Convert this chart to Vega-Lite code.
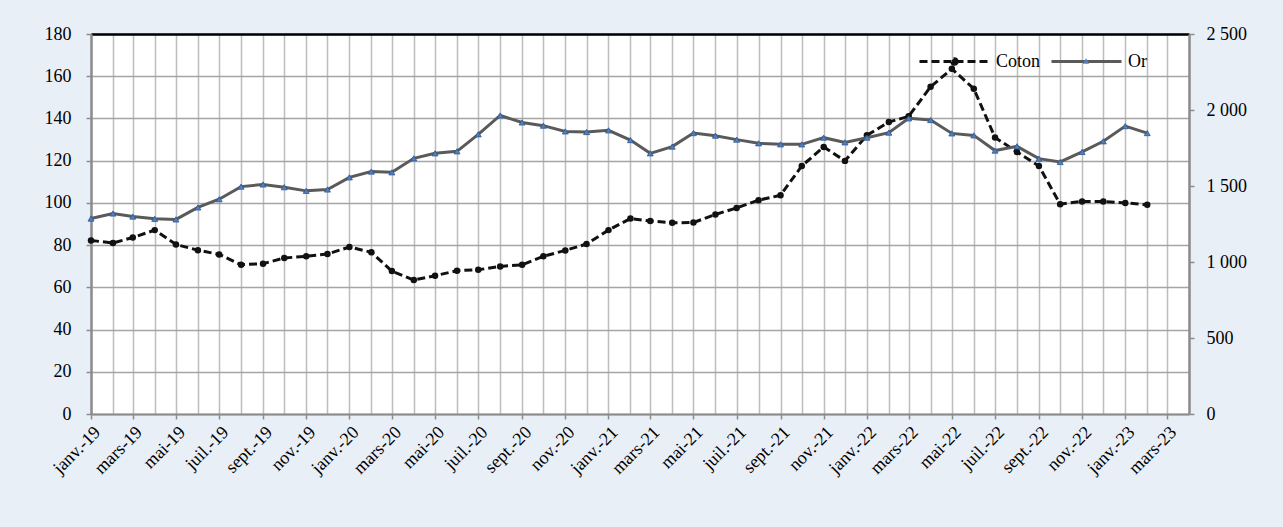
{
  "$schema": "https://vega.github.io/schema/vega-lite/v6.json",
  "width": 1098,
  "height": 380,
  "autosize": {"type": "none"},
  "padding": {"left": 91, "top": 34, "right": 94, "bottom": 113},
  "background": "#E9EFF7",
  "config": {
    "view": {"fill": "#FFFFFF", "stroke": null},
    "font": "Liberation Serif",
    "axis": {"labelFont": "Liberation Serif", "labelFontSize": 18, "labelColor": "#000000", "labelFlush": false, "labelOverlap": false, "labelBound": false},
    "legend": {"labelFont": "Liberation Serif", "labelFontSize": 18, "labelColor": "#000000", "labelOffset": 5, "padding": 0, "symbolSize": 4900, "symbolStrokeWidth": 3, "titleFontSize": 0}
  },
  "data": {
    "values": [
      {"mois": "2019-01-01", "coton": 82.2, "or": 1286},
      {"mois": "2019-02-01", "coton": 81.0, "or": 1319},
      {"mois": "2019-03-01", "coton": 83.6, "or": 1299},
      {"mois": "2019-04-01", "coton": 87.1, "or": 1284},
      {"mois": "2019-05-01", "coton": 80.3, "or": 1280},
      {"mois": "2019-06-01", "coton": 77.6, "or": 1359},
      {"mois": "2019-07-01", "coton": 75.6, "or": 1413},
      {"mois": "2019-08-01", "coton": 70.7, "or": 1496},
      {"mois": "2019-09-01", "coton": 71.2, "or": 1510},
      {"mois": "2019-10-01", "coton": 73.9, "or": 1492},
      {"mois": "2019-11-01", "coton": 74.7, "or": 1468},
      {"mois": "2019-12-01", "coton": 75.8, "or": 1477},
      {"mois": "2020-01-01", "coton": 79.1, "or": 1557},
      {"mois": "2020-02-01", "coton": 76.6, "or": 1595},
      {"mois": "2020-03-01", "coton": 67.7, "or": 1590},
      {"mois": "2020-04-01", "coton": 63.5, "or": 1682},
      {"mois": "2020-05-01", "coton": 65.5, "or": 1715},
      {"mois": "2020-06-01", "coton": 67.9, "or": 1728},
      {"mois": "2020-07-01", "coton": 68.3, "or": 1840},
      {"mois": "2020-08-01", "coton": 69.9, "or": 1964},
      {"mois": "2020-09-01", "coton": 70.7, "or": 1918},
      {"mois": "2020-10-01", "coton": 74.7, "or": 1897},
      {"mois": "2020-11-01", "coton": 77.5, "or": 1859},
      {"mois": "2020-12-01", "coton": 80.5, "or": 1855},
      {"mois": "2021-01-01", "coton": 87.1, "or": 1866},
      {"mois": "2021-02-01", "coton": 92.6, "or": 1802},
      {"mois": "2021-03-01", "coton": 91.4, "or": 1715},
      {"mois": "2021-04-01", "coton": 90.6, "or": 1759},
      {"mois": "2021-05-01", "coton": 90.7, "or": 1848},
      {"mois": "2021-06-01", "coton": 94.5, "or": 1831},
      {"mois": "2021-07-01", "coton": 97.6, "or": 1805},
      {"mois": "2021-08-01", "coton": 101.3, "or": 1781},
      {"mois": "2021-09-01", "coton": 103.6, "or": 1774},
      {"mois": "2021-10-01", "coton": 117.5, "or": 1774},
      {"mois": "2021-11-01", "coton": 126.5, "or": 1818},
      {"mois": "2021-12-01", "coton": 119.9, "or": 1787},
      {"mois": "2022-01-01", "coton": 132.0, "or": 1818},
      {"mois": "2022-02-01", "coton": 138.3, "or": 1851},
      {"mois": "2022-03-01", "coton": 141.0, "or": 1945},
      {"mois": "2022-04-01", "coton": 155.0, "or": 1934},
      {"mois": "2022-05-01", "coton": 163.5, "or": 1846},
      {"mois": "2022-06-01", "coton": 154.1, "or": 1833},
      {"mois": "2022-07-01", "coton": 131.0, "or": 1733},
      {"mois": "2022-08-01", "coton": 124.1, "or": 1761},
      {"mois": "2022-09-01", "coton": 117.5, "or": 1680},
      {"mois": "2022-10-01", "coton": 99.4, "or": 1658},
      {"mois": "2022-11-01", "coton": 100.7, "or": 1724},
      {"mois": "2022-12-01", "coton": 100.7, "or": 1794},
      {"mois": "2023-01-01", "coton": 100.0, "or": 1894},
      {"mois": "2023-02-01", "coton": 99.1, "or": 1848}
    ]
  },
  "layer": [
    {
      "encoding": {
        "x": {
          "field": "mois",
          "type": "temporal",
          "scale": {"type": "utc", "domain": [{"year": 2019, "month": 1, "date": 1, "utc": true}, {"year": 2023, "month": 4, "date": 1, "utc": true}]},
          "axis": {
            "orient": "bottom",
            "title": null,
            "tickCount": {"interval": "month", "step": 2},
            "grid": false,
            "labelAngle": -45,
            "labelExpr": "['janv.','févr.','mars','avr.','mai','juin','juil.','août','sept.','oct.','nov.','déc.'][utcmonth(datum.value)] + '-' + utcFormat(datum.value, '%y')",
            "labelPadding": 4,
            "tickSize": 5,
            "tickWidth": 1.5,
            "tickColor": "#8C8C8C",
            "domainColor": "#8C8C8C",
            "domainWidth": 2
          }
        },
        "y": {
          "field": "coton",
          "type": "quantitative",
          "scale": {"domain": [0, 180], "nice": false, "zero": true},
          "axis": {
            "orient": "left",
            "title": null,
            "values": [0, 20, 40, 60, 80, 100, 120, 140, 160, 180],
            "grid": true,
            "gridColor": "#A5A5A5",
            "gridWidth": 1.5,
            "domainColor": "#8C8C8C",
            "domainWidth": 2.5,
            "tickColor": "#8C8C8C",
            "tickSize": 5,
            "tickWidth": 1.5,
            "labelPadding": 15
          }
        }
      },
      "layer": [
        {
          "mark": {"type": "line", "strokeWidth": 3, "color": "#111111"},
          "encoding": {
            "strokeDash": {
              "datum": "Coton",
              "scale": {"domain": ["Coton"], "range": [[8, 4]]},
              "legend": {
                "orient": "none",
                "legendX": 827,
                "legendY": -9,
                "title": null,
                "symbolType": "M-1,0H1M0.08,0A0.08,0.08,0,1,1,-0.08,0A0.08,0.08,0,1,1,0.08,0Z",
                "symbolFillColor": "#111111",
                "symbolStrokeColor": "#111111"
              }
            }
          }
        },
        {
          "mark": {"type": "circle", "size": 42, "color": "#111111", "opacity": 1}
        }
      ]
    },
    {
      "encoding": {
        "x": {
          "field": "mois",
          "type": "temporal",
          "scale": {"type": "utc", "domain": [{"year": 2019, "month": 1, "date": 1, "utc": true}, {"year": 2023, "month": 4, "date": 1, "utc": true}]},
          "axis": {
            "orient": "top",
            "title": null,
            "tickCount": {"interval": "month", "step": 1},
            "grid": true,
            "gridColor": "#BDBDBD",
            "gridWidth": 1.5,
            "labels": false,
            "ticks": false,
            "domain": true,
            "domainColor": "#000000",
            "domainWidth": 2.5
          }
        },
        "y": {
          "field": "or",
          "type": "quantitative",
          "scale": {"domain": [0, 2500], "nice": false, "zero": true},
          "axis": {
            "orient": "right",
            "title": null,
            "values": [0, 500, 1000, 1500, 2000, 2500],
            "labelExpr": "replace(format(datum.value, ','), ',', ' ')",
            "grid": false,
            "domainColor": "#8C8C8C",
            "domainWidth": 2.5,
            "tickColor": "#8C8C8C",
            "tickSize": 5,
            "tickWidth": 1.5,
            "labelPadding": 12
          }
        }
      },
      "layer": [
        {
          "mark": {"type": "line", "strokeWidth": 3},
          "encoding": {
            "stroke": {
              "datum": "Or",
              "scale": {"domain": ["Or"], "range": ["#5A5A5A"]},
              "legend": {
                "orient": "none",
                "legendX": 959,
                "legendY": -9,
                "title": null,
                "symbolType": "M-1,0H1"
              }
            }
          }
        },
        {
          "mark": {"type": "point", "filled": true, "size": 36, "fill": "#4F81BD", "stroke": "#2F5597", "strokeWidth": 0.8, "opacity": 1},
          "encoding": {
            "shape": {
              "datum": "Or ",
              "scale": {"domain": ["Or "], "range": ["triangle-up"]},
              "legend": {
                "orient": "none",
                "legendX": 991,
                "legendY": 23,
                "title": null,
                "symbolSize": 40,
                "symbolStrokeWidth": 0.8,
                "symbolFillColor": "#4F81BD",
                "symbolStrokeColor": "#2F5597",
                "labelExpr": "''",
                "labelFontSize": 1,
                "labelOffset": 0
              }
            }
          }
        }
      ]
    }
  ],
  "resolve": {"scale": {"y": "independent"}, "axis": {"x": "independent", "y": "independent"}}
}
